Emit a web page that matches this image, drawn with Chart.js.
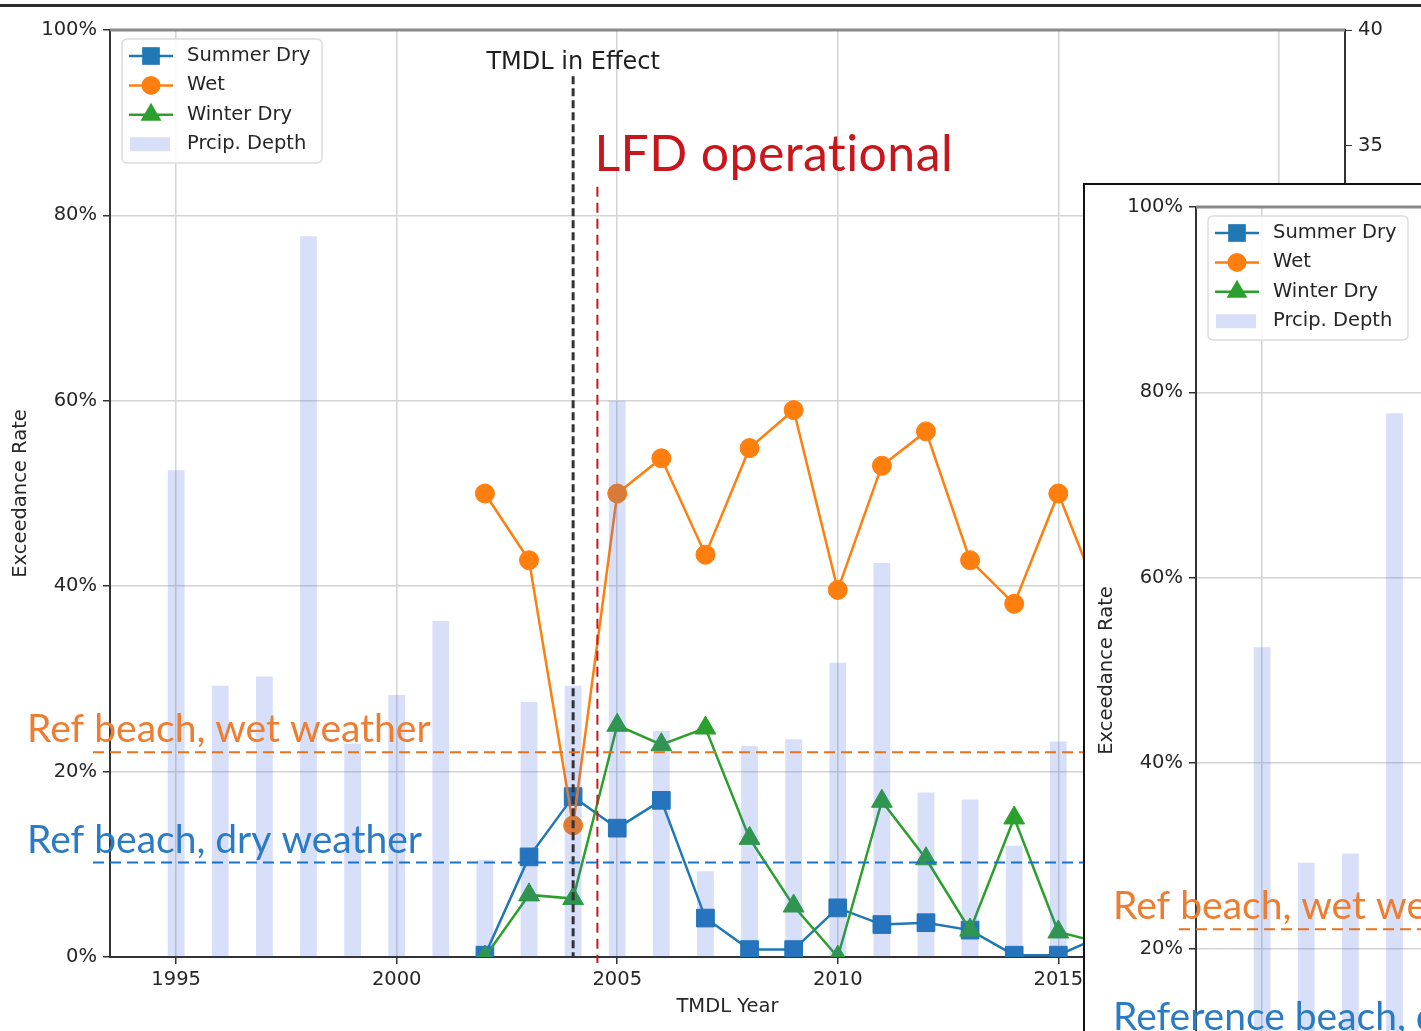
<!DOCTYPE html>
<html>
<head>
<meta charset="utf-8">
<script src="https://cdn.jsdelivr.net/npm/chart.js@4.4.1/dist/chart.umd.min.js"></script>
<style>
html, body { margin: 0; padding: 0; overflow: hidden; background: #fff; }
#page { position: relative; width: 1421px; height: 1031px; overflow: hidden; }
#topRule { position: absolute; left: 0; top: 4px; width: 1421px; height: 3px; background: #2b2b2b; }
#main { position: absolute; left: 0; top: 0; }
#inset { position: absolute; left: 1083px; top: 183px; width: 400px; height: 900px;
         border: 2px solid #111; background: #fff; overflow: hidden; }
#inset canvas { position: absolute; left: 1px; top: -8px; }
</style>
</head>
<body>
<div id="page">
  <canvas id="main" width="1421" height="1031"></canvas>
  <div id="topRule"></div>
  <div id="inset"><canvas id="insetChart" width="1421" height="1031"></canvas></div>
</div>
<script>
// precipitation depth per year (right axis)
const barYears = [1995, 1996, 1997, 1998, 1999, 2000, 2001, 2002, 2003, 2004, 2005,
                  2006, 2007, 2008, 2009, 2010, 2011, 2012, 2013, 2014, 2015];
const precipDepth = [21.0, 11.7, 12.1, 31.1, 9.2, 11.3, 14.5, 4.2, 11.0, 11.7, 24.0,
                     9.75, 3.7, 9.1, 9.4, 12.7, 17.0, 7.1, 6.8, 4.8, 9.3];

// exceedance rates (%) per year
const sampleYears = [2002, 2003, 2004, 2005, 2006, 2007, 2008, 2009, 2010, 2011, 2012, 2013, 2014, 2015, 2016];
const summerDry = [0.2, 10.8, 17.3, 13.9, 16.9, 4.2, 0.8, 0.8, 5.3, 3.5, 3.7, 2.9, 0.2, 0.2, 2.3];
const wet       = [50.0, 42.8, 14.2, 50.0, 53.8, 43.4, 54.9, 59.0, 39.6, 53.0, 56.7, 42.8, 38.1, 50.0, 38.0];
const winterDry = [0.0, 6.7, 6.3, 25.0, 22.9, 24.7, 12.8, 5.5, 0.0, 16.8, 10.6, 2.9, 15.0, 2.7, 1.5];

const xTicks = [1995, 2000, 2005, 2010, 2015, 2020];
const yTicks = [0, 20, 40, 60, 80, 100];
const y2Ticks = [0, 5, 10, 15, 20, 25, 30, 35, 40];

const refWet = 22.1;
const refDry = 10.2;
const tmdlYear = 2004;
const lfdYear = 2004.55;

Chart.defaults.font.family = '"DejaVu Sans", sans-serif';
Chart.defaults.font.size = 19.5;
Chart.defaults.color = '#262626';

function pts(xs, ys) {
    return xs.map(function(v, i) { return {x: v, y: ys[i]}; });
}

function dashed(ctx, x1, y1, x2, y2, color, width, dash) {
    ctx.save();
    ctx.beginPath();
    ctx.setLineDash(dash);
    ctx.strokeStyle = color;
    ctx.lineWidth = width;
    ctx.moveTo(x1, y1);
    ctx.lineTo(x2, y2);
    ctx.stroke();
    ctx.restore();
}

function marker(ctx, style, cx, cy, r) {
    ctx.beginPath();
    if (style === 'rect') {
        var s = r * Math.SQRT1_2;
        ctx.rect(cx - s, cy - s, 2 * s, 2 * s);
    } else if (style === 'circle') {
        ctx.arc(cx, cy, r, 0, Math.PI * 2);
    } else {
        ctx.moveTo(cx, cy - r);
        ctx.lineTo(cx + 0.866 * r, cy + 0.5 * r);
        ctx.lineTo(cx - 0.866 * r, cy + 0.5 * r);
        ctx.closePath();
    }
    ctx.fill();
}

var notes = {
    id: 'notes',
    afterDatasetsDraw: function(chart, args, opts) {
        var ctx = chart.ctx, a = chart.chartArea;
        var x = chart.scales.x, y = chart.scales.y;

        // top spine
        ctx.save();
        ctx.strokeStyle = '#8a8a8a';
        ctx.lineWidth = 3;
        ctx.beginPath();
        ctx.moveTo(a.left, a.top);
        ctx.lineTo(a.right, a.top);
        ctx.stroke();
        ctx.restore();

        // TMDL in effect
        var tx = x.getPixelForValue(tmdlYear);
        var tTop = y.getPixelForValue(95);
        dashed(ctx, tx, tTop, tx, a.bottom, '#333', 3, [8, 4]);
        ctx.save();
        ctx.font = '24px "DejaVu Sans"';
        ctx.fillStyle = '#1e1e1e';
        ctx.textAlign = 'center';
        ctx.fillText('TMDL in Effect', tx, tTop - 7);
        ctx.restore();

        // LFD operational
        var lx = x.getPixelForValue(lfdYear);
        dashed(ctx, lx, y.getPixelForValue(83.1), lx, a.bottom + 6, '#c8161d', 2, [10, 6]);
        ctx.save();
        ctx.font = '50px Lato';
        ctx.letterSpacing = '0.4px';
        ctx.fillStyle = '#c8161d';
        ctx.textAlign = 'left';
        ctx.fillText('LFD operational', lx - 3, y.getPixelForValue(84.8));
        ctx.restore();

        // reference beach lines
        var left = a.left - 17;
        var yw = y.getPixelForValue(refWet);
        var yd = y.getPixelForValue(refDry);
        dashed(ctx, left, yw, a.right, yw, '#e8731c', 2, [11, 6]);
        dashed(ctx, left, yd, a.right, yd, '#1a73c8', 2, [11, 6]);
        ctx.save();
        ctx.font = '39px Lato';
        ctx.textAlign = 'left';
        ctx.fillStyle = '#ed7d31';
        ctx.fillText(opts.wetLabel, a.left - 83, yw - 10);
        ctx.fillStyle = '#2b7bc4';
        ctx.fillText(opts.dryLabel, a.left - 83, yd - 9);
        ctx.restore();
    },
    afterDraw: function(chart) {
        var ctx = chart.ctx, a = chart.chartArea;
        var bx = a.left + 12, by = a.top + 9;
        ctx.save();
        ctx.beginPath();
        ctx.roundRect(bx, by, 200, 124, 5);
        ctx.fillStyle = 'rgba(255,255,255,0.85)';
        ctx.fill();
        ctx.strokeStyle = '#dcdcdc';
        ctx.lineWidth = 1.5;
        ctx.stroke();
        ctx.font = '19.5px "DejaVu Sans"';
        ctx.textBaseline = 'middle';
        chart.data.datasets.forEach(function(ds, i) {
            var ry = by + 17 + i * 29.4;
            if (ds.type === 'bar') {
                ctx.fillStyle = ds.backgroundColor;
                ctx.fillRect(bx + 8, ry - 7, 40, 14);
            } else {
                ctx.strokeStyle = ds.borderColor;
                ctx.lineWidth = ds.borderWidth;
                ctx.beginPath();
                ctx.moveTo(bx + 7, ry);
                ctx.lineTo(bx + 51, ry);
                ctx.stroke();
                ctx.fillStyle = ds.borderColor;
                marker(ctx, ds.pointStyle, bx + 29, ry, ds.pointRadius);
            }
            ctx.fillStyle = '#262626';
            ctx.fillText(ds.label, bx + 65, ry);
        });
        ctx.restore();
    }
};

function lineSet(label, ys, color, style, r, order) {
    return {
        type: 'line', label: label, data: pts(sampleYears, ys), yAxisID: 'y',
        borderColor: color, backgroundColor: color, borderWidth: 2.5,
        pointStyle: style, pointRadius: r, pointBackgroundColor: color,
        pointBorderColor: color, pointBorderWidth: 1, tension: 0, order: order
    };
}

function makeConfig(dryLabel) {
    return {
        type: 'line',
        data: {
            datasets: [
                lineSet('Summer Dry', summerDry, '#1f77b4', 'rect', 12.5, 3),
                lineSet('Wet', wet, '#ff7f0e', 'circle', 9.5, 2),
                lineSet('Winter Dry', winterDry, '#2ca02c', 'triangle', 12, 1),
                {
                    type: 'bar', label: 'Prcip. Depth', data: pts(barYears, precipDepth),
                    yAxisID: 'y2', backgroundColor: 'rgba(65,105,225,0.21)', borderWidth: 0,
                    barPercentage: 0.38, categoryPercentage: 1.0, order: 0
                }
            ]
        },
        options: {
            responsive: false,
            animation: false,
            events: [],
            layout: { padding: { top: 30, left: 0, right: 0, bottom: 0 } },
            plugins: {
                legend: { display: false },
                tooltip: { enabled: false },
                notes: { wetLabel: 'Ref beach, wet weather', dryLabel: dryLabel }
            },
            scales: {
                x: {
                    type: 'linear', min: 1993.5, max: 2021.5, offset: false,
                    afterBuildTicks: function(s) { s.ticks = xTicks.map(function(v) { return {value: v}; }); },
                    afterFit: function(s) { s.height = 74; },
                    ticks: { padding: 4, callback: function(v) { return String(v); } },
                    grid: { offset: false, color: '#d4d4d4', lineWidth: 1.5, tickColor: '#333', tickLength: 7 },
                    border: { color: '#333', width: 2 },
                    title: { display: true, text: 'TMDL Year', padding: { top: 0, bottom: 12 } }
                },
                y: {
                    type: 'linear', position: 'left', min: 0, max: 100,
                    afterBuildTicks: function(s) { s.ticks = yTicks.map(function(v) { return {value: v}; }); },
                    afterFit: function(s) { s.width = 110; },
                    ticks: { padding: 6, callback: function(v) { return v + '%'; } },
                    grid: { color: '#d4d4d4', lineWidth: 1.5, tickColor: '#333', tickLength: 7 },
                    border: { color: '#333', width: 2 },
                    title: { display: true, text: 'Exceedance Rate', padding: { top: 9, bottom: 0 } }
                },
                y2: {
                    type: 'linear', position: 'right', min: 0, max: 40,
                    afterBuildTicks: function(s) { s.ticks = y2Ticks.map(function(v) { return {value: v}; }); },
                    afterFit: function(s) { s.width = 76; },
                    ticks: { padding: 6 },
                    grid: { drawOnChartArea: false, tickColor: '#333', tickLength: 7 },
                    border: { color: '#333', width: 2 }
                }
            }
        },
        plugins: [notes]
    };
}

new Chart(document.getElementById('main'), makeConfig('Ref beach, dry weather'));
new Chart(document.getElementById('insetChart'), makeConfig('Reference beach, dry weather'));
</script>
</body>
</html>
